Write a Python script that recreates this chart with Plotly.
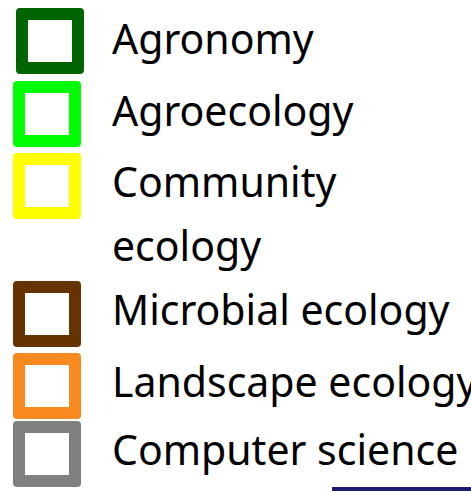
import plotly.graph_objects as go

# Legend entries (categories) and their colours
labels = ["Agronomy", "Agroecology", "Community\necology", "Microbial ecology",
          "Landscape ecology", "Computer science"]
colors = ["#006400", "#00FF00", "#FFFF00", "#663300", "#F7891F", "#808080"]

W, H = 471, 491

# layout (pixel positions of the swatches / text)
box_x0 = [16, 13, 13, 13, 13, 13]
box_y0 = [8, 81, 153, 281, 353, 421]
box_w, box_h, border, rad = 68, 66, 12, 4
text_x = 110
text_base = [52, 124, 195, 323, 395, 463]
line_gap = 64
font_size = 41


def rrect(x0, y0, x1, y1, r):
    return (f"M {x0+r},{y0} L {x1-r},{y0} Q {x1},{y0} {x1},{y0+r} "
            f"L {x1},{y1-r} Q {x1},{y1} {x1-r},{y1} L {x0+r},{y1} "
            f"Q {x0},{y1} {x0},{y1-r} L {x0},{y0+r} Q {x0},{y0} {x0+r},{y0} Z")


fig = go.Figure()
fig.add_trace(go.Scatter(x=[0, W], y=[0, H], mode="markers",
                         marker=dict(opacity=0), hoverinfo="skip", showlegend=False))

shapes = []
annotations = []
for lab, col, bx, by, tb in zip(labels, colors, box_x0, box_y0, text_base):
    shapes.append(dict(type="path", xref="x", yref="y",
                       path=rrect(bx, by, bx + box_w, by + box_h, rad),
                       fillcolor=col, line=dict(width=0), layer="above"))
    shapes.append(dict(type="rect", xref="x", yref="y",
                       x0=bx + border, y0=by + border,
                       x1=bx + box_w - border, y1=by + box_h - border,
                       fillcolor="white", line=dict(width=0), layer="above"))
    for i, line in enumerate(lab.split("\n")):
        base = tb + i * line_gap
        annotations.append(dict(x=text_x, y=base - 14.5, xref="x", yref="y",
                                text=line, showarrow=False,
                                xanchor="left", yanchor="middle",
                                font=dict(family="Noto Sans", size=font_size,
                                          color="black")))

# dark blue rule at bottom right
shapes.append(dict(type="rect", xref="x", yref="y", x0=332, x1=471, y0=487, y1=491,
                   fillcolor="#1C1C6C", line=dict(width=0)))

fig.update_layout(
    width=W, height=H, margin=dict(l=0, r=0, t=0, b=0),
    paper_bgcolor="white", plot_bgcolor="white",
    xaxis=dict(range=[0, W], visible=False, fixedrange=True),
    yaxis=dict(range=[H, 0], visible=False, fixedrange=True),
    shapes=shapes, annotations=annotations, showlegend=False,
)
fig.write_html("out.html", config={"displayModeBar": False},
               post_script="document.body.style.margin='0';"
                           "document.body.style.overflow='hidden';")
